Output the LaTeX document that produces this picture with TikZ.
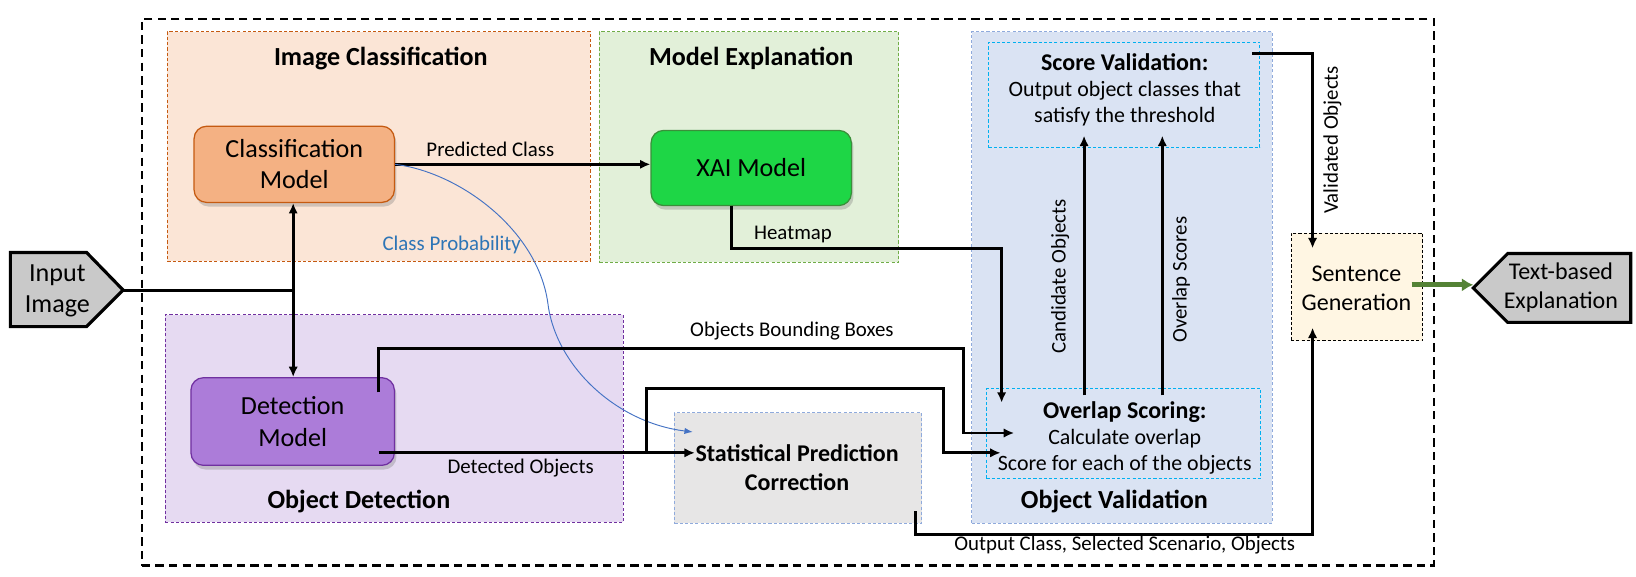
\documentclass[tikz,border=0pt]{standalone}
\usepackage{fontspec}
\setmainfont{Carlito}
\usetikzlibrary{arrows.meta,shadows}
\definecolor{icfill}{HTML}{FBE5D6}
\definecolor{icline}{HTML}{C55A11}
\definecolor{mefill}{HTML}{E2F0D9}
\definecolor{meline}{HTML}{70AD47}
\definecolor{odfill}{HTML}{E6DAF2}
\definecolor{odline}{HTML}{7030A0}
\definecolor{ovfill}{HTML}{DAE3F3}
\definecolor{ovline}{HTML}{8FAADC}
\definecolor{innerline}{HTML}{00B0F0}
\definecolor{spcfill}{HTML}{E7E6E6}
\definecolor{sgfill}{HTML}{FFF6E3}
\definecolor{cmfill}{HTML}{F4B183}
\definecolor{cmline}{HTML}{C55A11}
\definecolor{xaifill}{HTML}{1ED646}
\definecolor{xailine}{HTML}{3A8F3A}
\definecolor{dmfill}{HTML}{AC7CD9}
\definecolor{dmline}{HTML}{7030A0}
\definecolor{iofill}{HTML}{C9C9C9}
\definecolor{probblue}{HTML}{4472C4}
\definecolor{problabel}{HTML}{2E75B6}
\definecolor{greenarr}{HTML}{548235}
\newcommand\fTitle{\fontsize{25}{30}\selectfont\bfseries}
\newcommand\fNodeTxt{\fontsize{25}{30}\selectfont}
\newcommand\fIO{\fontsize{23}{28}\selectfont}
\newcommand\fLbl{\fontsize{20}{24}\selectfont}
\newcommand\fInBold{\fontsize{23}{26}\selectfont\bfseries}
\newcommand\fIn{\fontsize{21}{25}\selectfont}
\newcommand\fSPC{\fontsize{23}{28}\selectfont\bfseries}
\begin{document}
\begin{tikzpicture}[x=1pt,y=-1pt,
  grp/.style={draw, dash pattern=on 3pt off 2pt, line width=0.9pt, anchor=north west, inner sep=0pt},
  mdl/.style={draw, rounded corners=12pt, line width=1.2pt, align=center, font=\fNodeTxt,
     drop shadow={opacity=0.35,shadow xshift=2pt,shadow yshift=-4pt}},
  title/.style={font=\fTitle},
  lbl/.style={font=\fLbl},
  iobox/.style={draw=black, fill=iofill, line width=3pt, line join=miter},
  conn/.style={line width=2.8pt},
  arr/.style={conn, -{Latex[length=10pt,width=9pt]}},
  probarr/.style={draw=probblue, line width=0.9pt, -{Latex[length=8pt,width=6pt]}}
]
\useasboundingbox[fill=white] (0,0) rectangle (1568,553);
% outer frame
\node[grp, draw=black, dash pattern=on 8pt off 5pt, line width=2pt, minimum width=1238pt, minimum height=524pt] (outer) at (135,17) {};
% group boxes
\node[grp, fill=icfill, draw=icline, minimum width=405pt, minimum height=220pt] (ic) at (160,30) {};
\node[grp, fill=mefill, draw=meline, minimum width=287pt, minimum height=221pt] (me) at (574,30) {};
\node[grp, fill=odfill, draw=odline, minimum width=439pt, minimum height=199pt] (od) at (158,301) {};
\node[grp, fill=ovfill, draw=ovline, minimum width=288pt, minimum height=471pt] (ov) at (931,30) {};
\node[grp, draw=innerline, minimum width=260pt, minimum height=101pt] (sv) at (947,40) {};
\node[grp, draw=innerline, minimum width=263pt, minimum height=86pt] (os) at (945,372) {};
\node[grp, fill=spcfill, draw=ovline, minimum width=237pt, minimum height=106pt] (spc) at (646,395) {};
\node[grp, fill=sgfill, draw=black, minimum width=126pt, minimum height=103pt] (sg) at (1237,223) {};
% titles
\node[title] (ict) at (365,56) {Image Classification};
\node[title] (met) at (720,56) {Model Explanation};
\node[title] (odt) at (344,481) {Object Detection};
\node[title] (ovt) at (1068,481) {Object Validation};
% inner texts
\node[font=\fIn, align=center] (svt) at (1078,86) {{\fInBold Score Validation:}\\Output object classes that\\satisfy the threshold};
\node[font=\fIn, align=center] (ost) at (1078,420) {{\fInBold Overlap Scoring:}\\Calculate overlap\\Score for each of the objects};
\node[font=\fSPC, align=center] (spct) at (764,448) {Statistical Prediction\\Correction};
\node[font=\fIO, align=center] (sgt) at (1300,276) {Sentence\\Generation};
% model nodes
\node[mdl, fill=cmfill, draw=cmline, minimum width=192pt, minimum height=73pt] (cm) at (282,157.5) {Classification\\Model};
\node[mdl, fill=xaifill, draw=xailine, minimum width=192pt, minimum height=72pt] (xai) at (720,161) {XAI Model};
\node[mdl, fill=dmfill, draw=dmline, minimum width=195pt, minimum height=84pt] (dm) at (280.5,404) {Detection\\Model};
% input / output
\draw[iobox] (10,242) -- (83,242) -- (118,278) -- (83,313) -- (10,313) -- cycle;
\node[font=\fNodeTxt, align=center] (inp) at (55,279) {Input\\Image};
\draw[iobox] (1412,276) -- (1445,243) -- (1563,243) -- (1563,309) -- (1445,309) -- cycle;
\node[font=\fIO, align=center] (outp) at (1496,276) {Text-based\\Explanation};
% coordinates
\coordinate (intip) at (118,278);
\coordinate (split) at (281,278);
\coordinate (hm0) at (701,197);
\coordinate (hmend) at (960,386);
\coordinate (bb0) at (363,376);
\coordinate (bbend) at (972,415);
\coordinate (do0) at (363,434);
\coordinate (doend) at (666,434);
\coordinate (br0) at (620,434);
\coordinate (brend) at (959,434);
\coordinate (co0) at (1039,379);
\coordinate (coend) at (1039,130);
\coordinate (ol0) at (1114,379);
\coordinate (olend) at (1114,130);
\coordinate (vo0) at (1200,51);
\coordinate (voend) at (1258,238);
\coordinate (oc0) at (877,490);
\coordinate (ocend) at (1258,314);
\coordinate (pend) at (664,414);
\coordinate (g0) at (1353,273);
\coordinate (gend) at (1412,273);
% connectors
\draw[conn] (intip) -- (split);
\draw[arr] (split) -- (split |- cm.south);
\draw[arr] (split) -- (split |- dm.north);
\draw[arr] (cm.east) -- (cm.east -| xai.west);
\draw[probarr] (cm.east) .. controls (440,165) and (515,220) .. (525,290) .. controls (532,350) and (590,405) .. (pend);
\draw[arr] (hm0) -- (701,238) -- (960,238) -- (hmend);
\draw[arr] (bb0) -- (363,334) -- (923,334) -- (923,415) -- (bbend);
\draw[arr] (do0) -- (doend);
\draw[arr] (br0) -- (620,372) -- (904,372) -- (904,434) -- (brend);
\draw[arr] (co0) -- (coend);
\draw[arr] (ol0) -- (olend);
\draw[arr] (vo0) -- (1258,51) -- (voend);
\draw[arr] (oc0) -- (877,512) -- (1258,512) -- (ocend);
\draw[draw=greenarr, line width=4.5pt, -{Latex[length=11pt,width=13pt]}] (g0) -- (gend);
% labels
\node[lbl] (lpc) at (470,143) {Predicted Class};
\node[lbl, text=problabel] (lcp) at (433,235) {Class Probability};
\node[lbl] (lhm) at (760,225) {Heatmap};
\node[lbl] (lbb) at (759,317) {Objects Bounding Boxes};
\node[lbl] (ldo) at (499,449) {Detected Objects};
\node[lbl, rotate=90] (lco) at (1016,265) {Candidate Objects};
\node[lbl, rotate=90] (los) at (1132,268) {Overlap Scores};
\node[lbl, rotate=90] (lvo) at (1277,134) {Validated Objects};
\node[lbl] (loc) at (1078,522) {Output Class, Selected Scenario, Objects};
\end{tikzpicture}
\end{document}
